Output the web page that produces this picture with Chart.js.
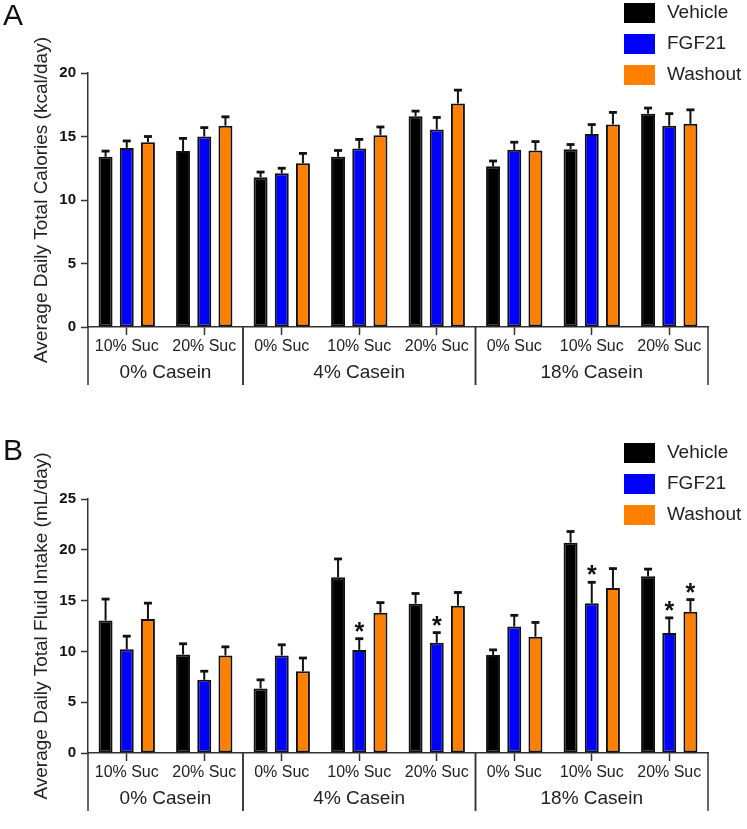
<!DOCTYPE html>
<html lang="en">
<head>
<meta charset="UTF-8">
<title>Calories and fluid intake</title>
<script src="https://cdn.jsdelivr.net/npm/chart.js@4.4.1/dist/chart.umd.min.js"></script>
<style>
  body { margin: 0; background: #fff; }
  canvas { display: block; }
</style>
</head>
<body>
<canvas id="chartA" width="747" height="400"></canvas>
<canvas id="chartB" width="747" height="429"></canvas>

<script>
// x axis: sucrose level inside each casein group
const sucrose = ['10% Suc', '20% Suc', '0% Suc', '10% Suc', '20% Suc', '0% Suc', '10% Suc', '20% Suc'];
const casein = ['0% Casein', '4% Casein', '18% Casein'];
const caseinCount = [2, 3, 3];

const seriesNames = ['Vehicle', 'FGF21', 'Washout'];
const seriesColors = ['#000000', '#0000ff', '#ff8000'];

// A - total calories (kcal/day), mean and SEM
const vehicleA = [13.4, 13.85, 11.8, 13.4, 16.6, 12.65, 14.0, 16.8];
const vehicleAErr = [0.45, 1.0, 0.4, 0.5, 0.4, 0.42, 0.37, 0.44];
const fgf21A = [14.1, 15.0, 12.1, 14.05, 15.55, 13.95, 15.2, 15.85];
const fgf21AErr = [0.55, 0.7, 0.4, 0.72, 0.95, 0.6, 0.74, 0.95];
const washoutA = [14.55, 15.85, 12.9, 15.1, 17.6, 13.9, 15.95, 16.0];
const washoutAErr = [0.45, 0.7, 0.77, 0.65, 1.05, 0.7, 0.95, 1.1];

// B - total fluid intake (mL/day)
const vehicleB = [13.05, 9.7, 6.35, 17.3, 14.7, 9.65, 20.7, 17.4];
const vehicleBErr = [2.1, 1.05, 0.85, 1.8, 1.0, 0.5, 1.1, 0.7];
const fgf21B = [10.2, 7.2, 9.6, 10.15, 10.85, 12.45, 14.75, 11.8];
const fgf21BErr = [1.3, 0.85, 1.05, 1.1, 1.0, 1.1, 2.05, 1.5];
const washoutB = [13.2, 9.6, 8.05, 13.8, 14.5, 11.45, 16.25, 13.9];
const washoutBErr = [1.55, 0.85, 1.3, 1.0, 1.3, 1.4, 1.9, 1.2];

// significance stars (category index)
const fgf21BStars = [3, 4, 6, 7];
const washoutBStars = [7];

Chart.defaults.font.family = "'Liberation Sans', Arial, sans-serif";
Chart.defaults.color = '#222';

// error bars, stars, casein groups, legend and panel letter
const extrasPlugin = {
  id: 'extras',
  afterDatasetsDraw(chart, args, opts) {
    const ctx = chart.ctx;
    const y = chart.scales.y;
    ctx.save();
    ctx.strokeStyle = '#111';
    ctx.fillStyle = '#111';
    chart.data.datasets.forEach((ds, di) => {
      const meta = chart.getDatasetMeta(di);
      meta.data.forEach((bar, i) => {
        const top = y.getPixelForValue(ds.data[i] + ds.errors[i]);
        ctx.lineWidth = 2;
        ctx.beginPath();
        ctx.moveTo(bar.x, bar.y);
        ctx.lineTo(bar.x, top);
        ctx.stroke();
        ctx.lineWidth = 2.8;
        ctx.beginPath();
        ctx.moveTo(bar.x - 4, top);
        ctx.lineTo(bar.x + 4, top);
        ctx.stroke();
        if (ds.stars && ds.stars.includes(i)) {
          ctx.font = "bold 25px 'Liberation Sans', Arial, sans-serif";
          ctx.textAlign = 'center';
          ctx.textBaseline = 'alphabetic';
          ctx.fillText('*', bar.x, top + 1);
        }
      });
    });
    ctx.restore();
  },
  afterDraw(chart, args, opts) {
    const ctx = chart.ctx;
    const x = chart.scales.x;
    const area = chart.chartArea;
    ctx.save();

    // casein group separators and names
    ctx.strokeStyle = '#333';
    ctx.lineWidth = 1.5;
    ctx.fillStyle = '#222';
    ctx.font = "19px 'Liberation Sans', Arial, sans-serif";
    ctx.textAlign = 'center';
    ctx.textBaseline = 'middle';
    let start = 0;
    casein.forEach((name, g) => {
      const end = start + caseinCount[g] - 1;
      const left = start === 0 ? area.left : (x.getPixelForTick(start - 1) + x.getPixelForTick(start)) / 2;
      const right = end === sucrose.length - 1 ? area.right : (x.getPixelForTick(end) + x.getPixelForTick(end + 1)) / 2;
      [left, right].forEach(px => {
        ctx.beginPath();
        ctx.moveTo(px, area.bottom);
        ctx.lineTo(px, area.bottom + 58);
        ctx.stroke();
      });
      ctx.fillText(name, (left + right) / 2, area.bottom + 46);
      start = end + 1;
    });

    // legend
    ctx.textAlign = 'left';
    ctx.font = "19px 'Liberation Sans', Arial, sans-serif";
    chart.data.datasets.forEach((ds, i) => {
      const top = opts.legendTop + i * 31;
      ctx.fillStyle = ds.backgroundColor;
      ctx.fillRect(624, top, 31, 20);
      ctx.fillStyle = '#222';
      ctx.fillText(ds.label, 667, top + 10);
    });

    // panel letter
    ctx.fillStyle = '#111';
    ctx.font = "30px 'Liberation Sans', Arial, sans-serif";
    ctx.fillText(opts.letter, 3, opts.letterY);
    ctx.restore();
  }
};

function makeChart(id, values, errors, stars, yMax, title, top, xHeight, letter, letterY, legendTop) {
  const datasets = seriesNames.map((name, i) => ({
    label: name,
    data: values[i],
    errors: errors[i],
    stars: stars[i],
    backgroundColor: seriesColors[i],
    borderColor: '#111',
    borderWidth: 2,
    borderSkipped: false,
    categoryPercentage: 0.82,
    barPercentage: 0.66
  }));

  return new Chart(document.getElementById(id), {
    type: 'bar',
    data: { labels: sucrose, datasets: datasets },
    plugins: [extrasPlugin],
    options: {
      responsive: false,
      animation: false,
      devicePixelRatio: 1,
      layout: { padding: { top: top, right: 39, left: 0, bottom: 0 } },
      plugins: {
        legend: { display: false },
        tooltip: { enabled: false },
        extras: { letter: letter, letterY: letterY, legendTop: legendTop }
      },
      scales: {
        x: {
          afterFit(scale) { scale.height = xHeight; },
          grid: { drawOnChartArea: false, offset: false, tickLength: 8, tickColor: '#333', tickWidth: 1.5 },
          border: { color: '#333', width: 1.5 },
          ticks: { autoSkip: false, maxRotation: 0, padding: 2, color: '#222', font: { size: 16 } }
        },
        y: {
          min: 0,
          max: yMax,
          afterFit(scale) { scale.width = 88; },
          grid: { drawOnChartArea: false, tickLength: 7, tickColor: '#333', tickWidth: 1.5 },
          border: { color: '#333', width: 1.5 },
          ticks: { stepSize: 5, padding: 5, color: '#111', font: { size: 15, weight: 'bold' } },
          title: { display: true, text: title, color: '#222', font: { size: 19 }, padding: { top: 30 } }
        }
      }
    }
  });
}

makeChart('chartA',
  [vehicleA, fgf21A, washoutA],
  [vehicleAErr, fgf21AErr, washoutAErr],
  [[], [], []],
  20, 'Average Daily Total Calories (kcal/day)', 73, 73, 'A', 17, 3);

makeChart('chartB',
  [vehicleB, fgf21B, washoutB],
  [vehicleBErr, fgf21BErr, washoutBErr],
  [[], fgf21BStars, washoutBStars],
  25, 'Average Daily Total Fluid Intake (mL/day)', 99, 76, 'B', 52, 43);
</script>
</body>
</html>
